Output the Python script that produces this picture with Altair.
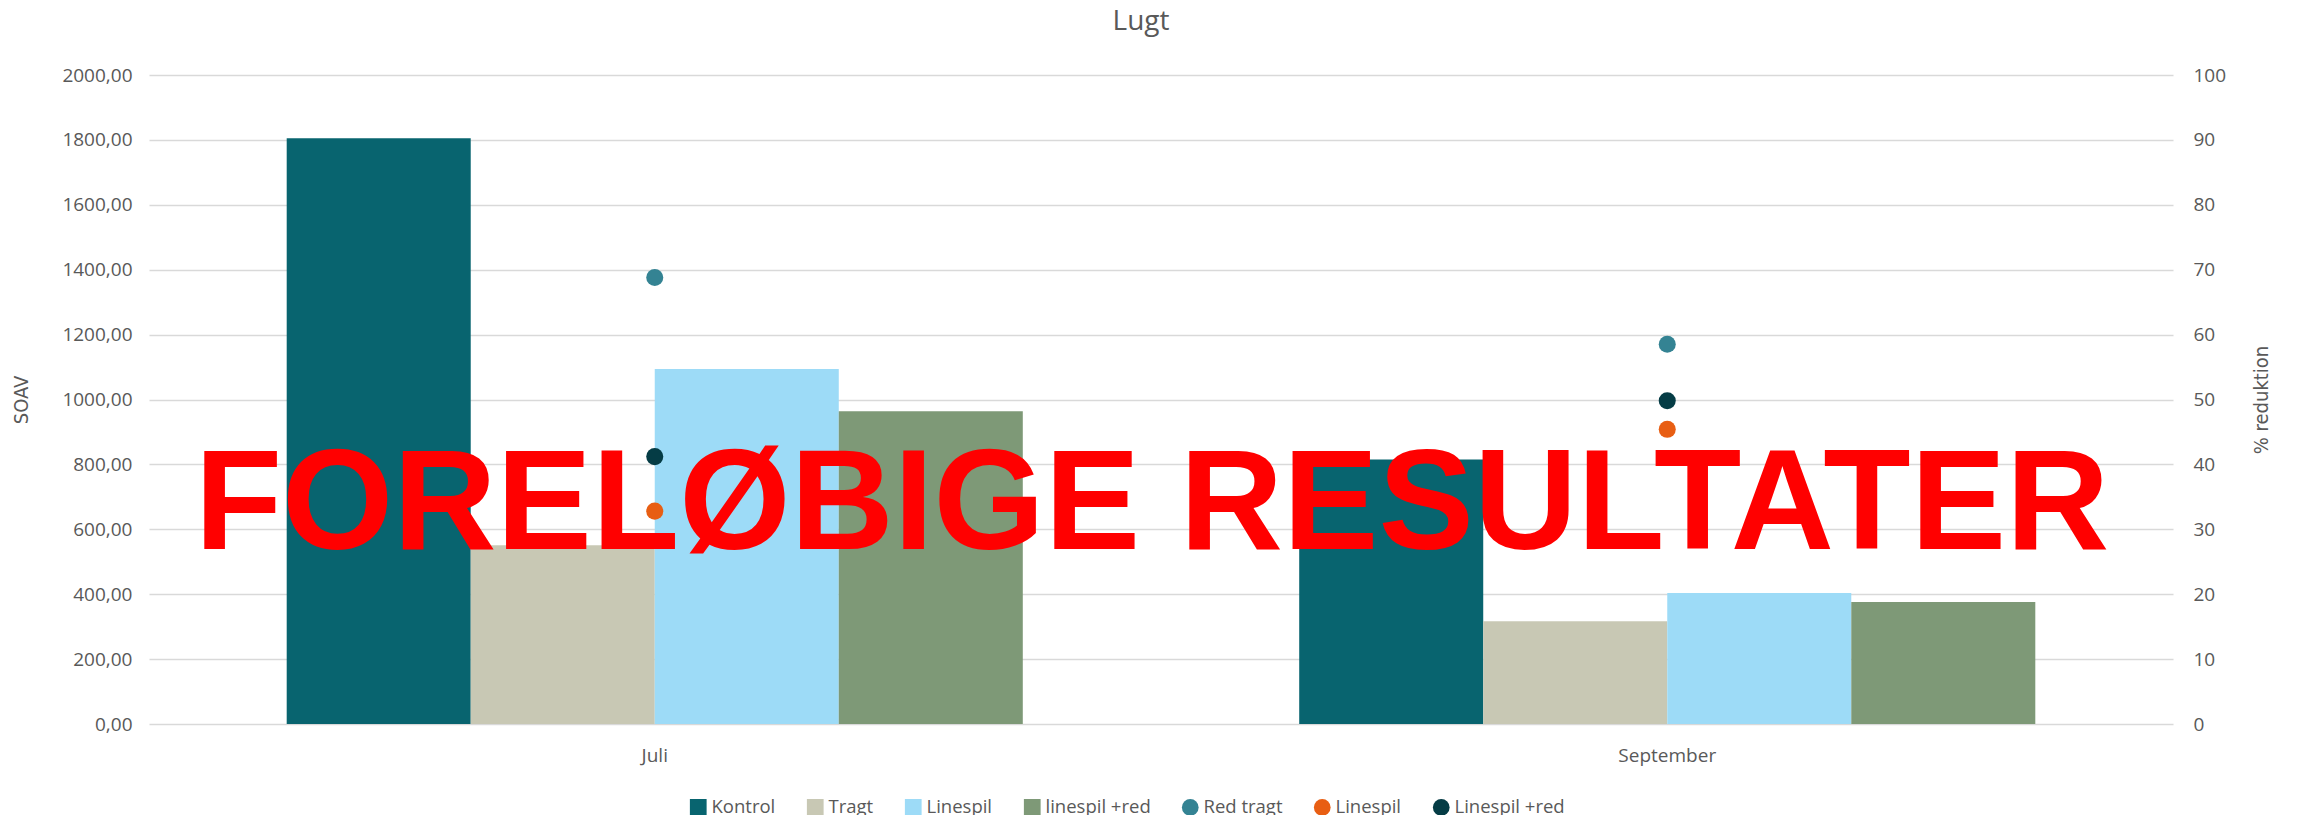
import altair as alt
import pandas as pd

months = ["Juli", "September"]
bar_series = ["Kontrol", "Tragt", "Linespil", "linespil +red"]
kontrol = [1805, 815]
tragt = [551, 317]
linespil = [1094, 404]
linespil_red = [964, 376]

point_series = ["Red tragt", "Linespil*", "Linespil +red"]
red_tragt_pct = [68.8, 58.5]
linespil_pct = [32.8, 45.4]
linespil_red_pct = [41.2, 49.8]

bar_colors = ["#08646F", "#C8C8B4", "#9DDBF7", "#7E9977"]
point_colors = ["#348393", "#E85E13", "#053C45"]

watermark = "FORELØBIGE RESULTATER"

bar_rows = []
for s, vals in zip(bar_series, [kontrol, tragt, linespil, linespil_red]):
    for m, v in zip(months, vals):
        bar_rows.append({"month": m, "key": s, "value": v})
bars_df = pd.DataFrame(bar_rows)

pt_rows = []
for s, vals in zip(point_series, [red_tragt_pct, linespil_pct, linespil_red_pct]):
    for m, v in zip(months, vals):
        pt_rows.append({"month": m, "key": s, "pct": v})
pts_df = pd.DataFrame(pt_rows)

all_keys = bar_series + point_series
all_colors = bar_colors + point_colors
all_shapes = ["square"] * 4 + ["circle"] * 3

W, H = 2024, 649
GRAY = "#595959"
FONT = "Open Sans"
COND = "DejaVu Sans Condensed"

xenc = alt.X("month:N", sort=months, title=None,
             scale=alt.Scale(paddingInner=0.273, paddingOuter=0.136),
             axis=alt.Axis(labelFontSize=19, labelColor=GRAY, labelFont=FONT,
                           labelPadding=22, labelAngle=0, grid=False,
                           domain=False, ticks=False))

legend = alt.Legend(title=None, orient="none", legendX=540, legendY=723,
                    direction="horizontal", labelFontSize=18.5, labelColor=GRAY,
                    labelFont=FONT, symbolSize=280, columnPadding=30,
                    labelOffset=4, symbolStrokeWidth=0, symbolOpacity=1,
                    labelExpr="replace(datum.label, '*', '')")

bars = alt.Chart(bars_df).mark_bar().encode(
    x=xenc,
    xOffset=alt.XOffset("key:N", sort=bar_series,
                        scale=alt.Scale(domain=bar_series, paddingInner=0, paddingOuter=0)),
    y=alt.Y("value:Q", title="SOAV",
            scale=alt.Scale(domain=[0, 2000], nice=False),
            axis=alt.Axis(values=list(range(0, 2001, 200)),
                          labelExpr="replace(format(datum.value, '.2f'), '.', ',')",
                          labelFontSize=19, labelColor=GRAY, labelFont=FONT,
                          labelPadding=17, titleFontSize=20, titleColor=GRAY,
                          titleFont=COND, titleFontWeight="normal",
                          titlePadding=30, grid=True, gridColor="#D9D9D9",
                          gridWidth=1.5, domain=False, ticks=False)),
    color=alt.Color("key:N", scale=alt.Scale(domain=all_keys, range=all_colors),
                    legend=legend),
)

points = alt.Chart(pts_df).mark_point(filled=True, opacity=1, size=290).encode(
    x=xenc,
    y=alt.Y("pct:Q", title="% reduktion",
            scale=alt.Scale(domain=[0, 100], nice=False),
            axis=alt.Axis(orient="right", values=list(range(0, 101, 10)),
                          labelFontSize=19, labelColor=GRAY, labelFont=FONT,
                          labelPadding=20, titleFontSize=20, titleColor=GRAY,
                          titleFont=COND, titleFontWeight="normal",
                          titleAngle=270, titlePadding=46, grid=False,
                          domain=False, ticks=False)),
    color=alt.Color("key:N", scale=alt.Scale(domain=all_keys, range=all_colors),
                    legend=legend),
    shape=alt.Shape("key:N", scale=alt.Scale(domain=all_keys, range=all_shapes),
                    legend=legend),
)

wm = alt.Chart(alt.Data(values=[{"t": watermark}])).mark_text(
    font="Liberation Sans", fontWeight="bold", fontSize=143, color="#FF0000",
    align="center", baseline="alphabetic"
).encode(text="t:N", x=alt.value(1003), y=alt.value(474))

chart = alt.layer(bars, points, wm).resolve_scale(y="independent").properties(
    width=W, height=H,
    title=alt.TitleParams("Lugt", fontSize=28, color=GRAY, font=FONT,
                          fontWeight="normal", offset=30, dx=-20),
    padding={"left": 141, "top": 67, "right": 116, "bottom": 91},
    autosize="none",
).configure_view(stroke=None)

chart.save("out.html", embed_options={"renderer": "svg", "actions": False})
